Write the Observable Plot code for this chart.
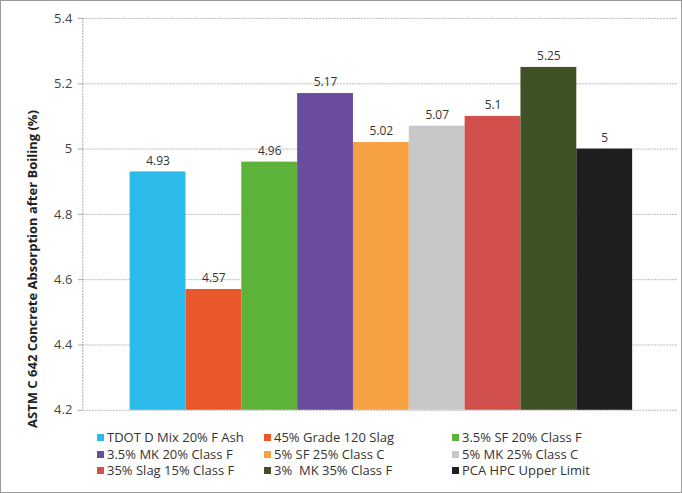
<!DOCTYPE html>
<html>
<head>
<meta charset="utf-8">
<script src="https://cdn.jsdelivr.net/npm/d3@7"></script>
<script src="https://cdn.jsdelivr.net/npm/@observablehq/plot@0.6"></script>
<style>
  html, body { margin: 0; padding: 0; background: #fff; }
  #frame { position: relative; width: 682px; height: 493px; box-sizing: border-box; border: 1px solid #9a9a9a; overflow: hidden; font-family: "Open Sans", sans-serif; }
  #chart { position: absolute; left: 0; top: 0; }
  #ylabel { position: absolute; left: 31px; top: 268px; transform: translate(-50%, -50%) rotate(-90deg); white-space: pre; font-weight: bold; font-size: 13px; color: #222; }
  #legend { position: absolute; left: 0; top: 428px; width: 682px; }
  .item { position: absolute; font-size: 13px; color: #333; white-space: pre; line-height: 17px; }
  .sw { display: inline-block; width: 7px; height: 7px; margin-right: 3px; vertical-align: 1px; }
</style>
</head>
<body>
<div id="frame">
  <div id="chart"></div>
  <div id="ylabel"></div>
  <div id="legend"></div>
</div>
<script>
const mixes = [
  "TDOT D Mix 20% F Ash",
  "45% Grade 120 Slag",
  "3.5% SF 20% Class F",
  "3.5% MK 20% Class F",
  "5% SF 25% Class C",
  "5% MK 25% Class C",
  "35% Slag 15% Class F",
  "3%  MK 35% Class F",
  "PCA HPC Upper Limit"
];
const absorption = [4.93, 4.57, 4.96, 5.17, 5.02, 5.07, 5.1, 5.25, 5];
const labels = ["4.93", "4.57", "4.96", "5.17", "5.02", "5.07", "5.1", "5.25", "5"];
const colors = ["#2cbbe8", "#e9582b", "#5db33a", "#6a4c9f", "#f6a142", "#c8c8c8", "#d2504c", "#3f5226", "#1f1f1f"];
const yTicks = [4.2, 4.4, 4.6, 4.8, 5, 5.2, 5.4];
const yTitle = "ASTM C 642 Concrete Absorption after Boiling (%)";

const data = mixes.map((m, i) => ({mix: m, value: absorption[i], label: labels[i]}));
const fmt = d => String(+d.toFixed(1));

const chart = Plot.plot({
  width: 682,
  height: 425,
  marginLeft: 82,
  marginRight: 3,
  marginTop: 17,
  marginBottom: 15,
  style: {fontFamily: "Open Sans, sans-serif", fontSize: "13px", color: "#444", background: "transparent"},
  x: {domain: mixes, paddingInner: 0, paddingOuter: 0.75, axis: null},
  y: {domain: [4.2, 5.4], ticks: yTicks, tickFormat: fmt, label: null},
  color: {domain: mixes, range: colors},
  marks: [
    Plot.gridY(yTicks, {stroke: "#aaa", strokeOpacity: 0.8, strokeDasharray: "2,1", strokeWidth: 1}),
    Plot.barY(data, {x: "mix", y1: 4.2, y2: "value", fill: "mix"}),
    Plot.text(data, {x: "mix", y: "value", text: "label", dy: -11, fill: "#333", fontSize: 12}),
    Plot.axisY({ticks: yTicks, tickFormat: fmt, tickSize: 5, tickPadding: 6, stroke: "#aaa", fill: "#444", fontSize: 13, label: null})
  ]
});
document.getElementById("chart").appendChild(chart);

// axis line on left
d3.select(chart).append("line").attr("x1", 82).attr("x2", 82).attr("y1", 17).attr("y2", 410)
  .attr("stroke", "#aaa").attr("stroke-dasharray", "2,1");

document.getElementById("ylabel").textContent = yTitle;

const legend = document.getElementById("legend");
const colX = [96, 263, 451];
mixes.forEach((m, i) => {
  const d = document.createElement("div");
  d.className = "item";
  d.style.left = colX[i % 3] + "px";
  d.style.top = (Math.floor(i / 3) * 16.5) + "px";
  d.innerHTML = `<span class="sw" style="background:${colors[i]}"></span>`;
  d.appendChild(document.createTextNode(m));
  legend.appendChild(d);
});
</script>
</body>
</html>
